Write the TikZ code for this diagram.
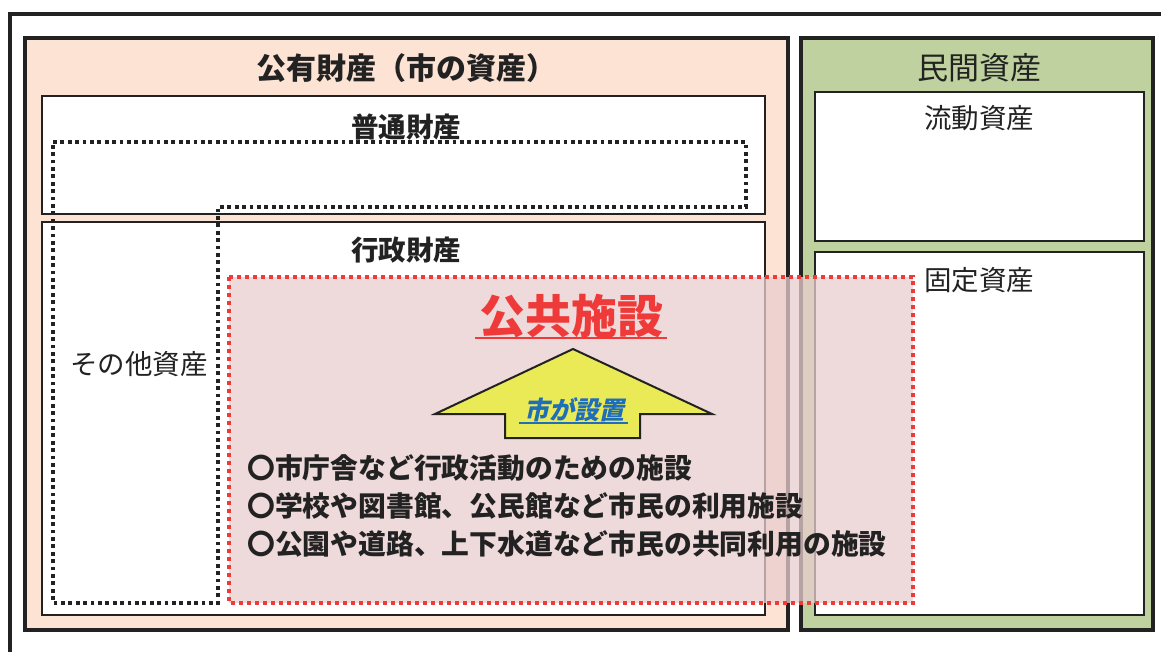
\documentclass[tikz,border=0pt]{standalone}
\usepackage{fontspec}
\setmainfont{Noto Sans CJK JP}
\newfontfamily\slantjp[FakeSlant=0.22]{Noto Sans CJK JP}
\definecolor{peach}{RGB}{252,227,212}
\definecolor{sage}{RGB}{190,209,158}
\definecolor{ink}{RGB}{34,34,34}
\definecolor{pubred}{RGB}{238,58,56}
\definecolor{pinkfill}{RGB}{233,205,207}
\definecolor{arrowyellow}{RGB}{234,233,86}
\definecolor{setblue}{RGB}{30,110,185}
\begin{document}
\begin{tikzpicture}[x=1pt,y=-1pt,
  bigbox/.style={draw=ink, line width=4},
  subbox/.style={draw=ink, line width=2, fill=white},
  otherdots/.style={draw=ink, line width=3.8, dash pattern=on 3.8 off 3.6},
  reddots/.style={draw=pubred, line width=3.3, dash pattern=on 3.6 off 4.4, fill=pinkfill, fill opacity=0.75},
  lbl/.style={inner sep=0pt, text=ink, font=\fontsize{27.5}{31}\selectfont},
  lblbold/.style={lbl, font=\fontsize{27.5}{31}\selectfont\bfseries},
  listitem/.style={inner sep=0pt, anchor=west, text=ink, font=\fontsize{27.8}{32}\selectfont\bfseries}
]
\useasboundingbox (0,0) rectangle (1161,652);
\clip (0,0) rectangle (1161,652);
\fill[white] (0,0) rectangle (1161,652);
% outer frame
\draw[ink, line width=3.5] (10,14) rectangle (1185,690);
% public / private boxes
\draw[bigbox, fill=peach] (25,38) rectangle (788,630);
\draw[bigbox, fill=sage] (801,38) rectangle (1153,630);
% inner boxes
\draw[subbox] (42,96) rectangle (765,214);
\draw[subbox] (42,222) rectangle (765,615);
\draw[subbox] (815,92) rectangle (1144,241);
\draw[subbox] (815,252) rectangle (1144,615);
% other assets dotted outline
\draw[otherdots] (53,142) -- (746,142) -- (746,207) -- (218,207) -- (218,603) -- (53,603) -- cycle;
% titles and labels
\node[lbl, font=\fontsize{30}{35}\selectfont\bfseries] (pubtitle) at (406,68) {公有財産（市の資産）};
\node[lbl, font=\fontsize{31}{36}\selectfont] (privtitle) at (979,68) {民間資産};
\node[lblbold] (futsu) at (406,127) {普通財産};
\node[lblbold] (gyosei) at (406,250) {行政財産};
\node[lbl] (sonota) at (139,364) {その他資産};
\node[lbl] (ryudo) at (979,118) {流動資産};
\node[lbl] (kotei) at (979,280) {固定資産};
% public facilities overlay
\draw[reddots] (229,277) rectangle (913,603);
\node[inner sep=0pt, text=pubred, font=\fontsize{46}{52}\selectfont\bfseries] (kokyo) at (571,316) {公共施設};
\draw[pubred, line width=2.5] (475,338) -- (667,338);
% arrow
\draw[ink, line width=2, fill=arrowyellow, line join=miter]
  (573,349) -- (712,414) -- (640,414) -- (640,438) -- (505,438) -- (505,414) -- (435,414) -- cycle;
\node[inner sep=0pt, text=setblue, font=\fontsize{25}{29}\slantjp\bfseries] (secchi) at (574,410) {市が設置};
\draw[setblue, line width=1.5] (519,423) -- (628,423);
% list
\node[listitem] (item1) at (247,468) {〇市庁舎など行政活動のための施設};
\node[listitem] (item2) at (247,506) {〇学校や図書館、公民館など市民の利用施設};
\node[listitem] (item3) at (247,544) {〇公園や道路、上下水道など市民の共同利用の施設};
\end{tikzpicture}
\end{document}
